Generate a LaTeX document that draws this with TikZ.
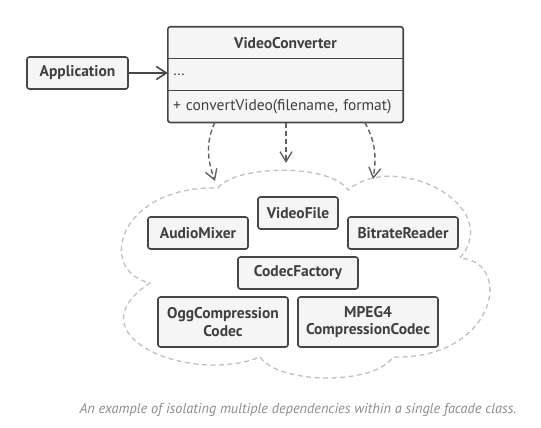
\documentclass[tikz,border=0pt]{standalone}
\usepackage{fontspec}
\setmainfont{PT Sans}
\usetikzlibrary{arrows.meta,positioning}
\definecolor{boxfill}{RGB}{245,245,245}
\definecolor{boxline}{RGB}{70,70,70}
\definecolor{cloudline}{RGB}{192,192,192}
\definecolor{captiongray}{RGB}{140,140,140}

\begin{document}
\begin{tikzpicture}[x=1pt, y=-1pt,
  classbox/.style={draw=boxline, fill=boxfill, line width=1.6pt, rounded corners=2.5pt,
    inner sep=0pt, align=center, font=\fontsize{15.5}{17.5}\selectfont\bfseries, text=boxline!90!black},
  memberbox/.style={fill=boxfill, inner xsep=5pt, inner ysep=0pt, text width=225pt, align=left,
    minimum height=31.5pt, font=\fontsize{15.5}{17.5}\selectfont, text=boxline!90!black},
  deparrow/.style={draw=boxline!85, line width=1.4pt, dash pattern=on 5pt off 3pt,
    -{Straight Barb[length=10pt, width=12pt, line width=1.4pt]}}]
\useasboundingbox (0,0) rectangle (541,428);

% Facade class
\node[memberbox, font=\fontsize{15.5}{17.5}\selectfont\bfseries, align=center] (vc) at (285.5,42.75) {VideoConverter};
\node[memberbox, below=0pt of vc] (vcfields) {\ldots};
\node[memberbox, below=0pt of vcfields] (vcmethods) {+ convertVideo(filename, format)};
\draw[boxline, line width=1.6pt, rounded corners=2.5pt] (vc.north west) rectangle (vcmethods.south east);
\draw[boxline, line width=1.6pt] (vcfields.north west) -- (vcfields.north east);
\draw[boxline, line width=1.6pt] (vcmethods.north west) -- (vcmethods.north east);

% Client
\node[classbox, minimum width=101pt, minimum height=32pt] (app) at (77.5,73) {Application};
\draw[boxline, line width=1.6pt, -{Straight Barb[length=10pt, width=13pt, line width=1.6pt]}]
  (app.east) -- (app.east -| vcfields.west);

% Subsystem cloud
\draw[cloudline, line width=1.3pt, dash pattern=on 5pt off 3.5pt]
  (218,188) .. controls (235,165) and (330,163) .. (348,190)
  .. controls (395,150) and (505,205) .. (460,258)
  .. controls (515,262) and (495,360) .. (393,357)
  .. controls (375,385) and (280,385) .. (260,357)
  .. controls (190,385) and (70,335) .. (150,283)
  .. controls (95,270) and (120,185) .. cycle;

% Subsystem classes
\node[classbox, minimum width=80pt, minimum height=32pt] (videofile) at (298,213) {VideoFile};
\node[classbox, minimum width=100pt, minimum height=32pt] (audiomixer) at (198,233) {AudioMixer};
\node[classbox, minimum width=110pt, minimum height=32pt] (bitrate) at (403,233) {BitrateReader};
\node[classbox, minimum width=120pt, minimum height=32pt] (codecfactory) at (298,273) {CodecFactory};
\node[classbox, minimum width=130pt, minimum height=50pt] (oggcodec) at (223,322) {OggCompression\\Codec};
\node[classbox, minimum width=140pt, minimum height=50pt] (mpegcodec) at (368,322) {MPEG4\\CompressionCodec};

% Dependencies
\coordinate (mixtop) at (215,181);
\coordinate (filetop) at (286,163);
\coordinate (readertop) at (373,179);
\draw[deparrow] ([xshift=47pt]vcmethods.south west) .. controls +(-9,20) and +(-8,-22) .. (mixtop);
\draw[deparrow] (vcmethods.south -| filetop) -- (filetop);
\draw[deparrow] ([xshift=197pt]vcmethods.south west) .. controls +(10,18) and +(4,-24) .. (readertop);

% Caption
\node[font=\fontsize{14.3}{17}\selectfont\itshape, text=captiongray] (caption) at (298,410)
  {An example of isolating multiple dependencies within a single facade class.};
\end{tikzpicture}
\end{document}
